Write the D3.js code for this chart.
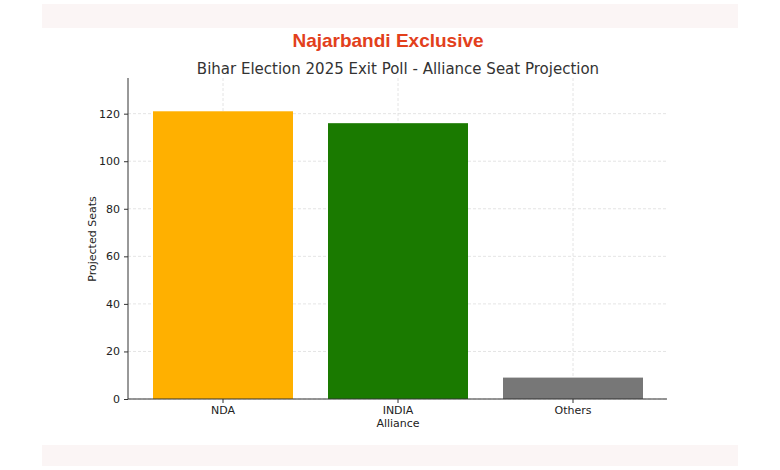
<!DOCTYPE html><html><head><meta charset="utf-8"><script src="https://cdn.jsdelivr.net/npm/d3@7"></script>
<style>body{margin:0;background:#fff}text{font-family:"DejaVu Sans",sans-serif}</style></head><body><svg id="c" width="780" height="470"></svg>
<script>
const categories=["NDA","INDIA","Others"];
const seats=[121,116,9];
const colors=["#FFB000","#1A7A00","#777777"];
const yTicks=[0,20,40,60,80,100,120];
const svg=d3.select("#c");
svg.append("rect").attr("x",42).attr("y",4).attr("width",696).attr("height",24).attr("fill","#fbf5f5");
svg.append("rect").attr("x",42).attr("y",445).attr("width",696).attr("height",21).attr("fill","#fbf5f5");
const x=d3.scaleBand().domain(categories).range([135.5,660.5]).paddingInner(0.2).paddingOuter(0.1);
const y=d3.scaleLinear().domain([0,135]).range([399,78]);
const g=svg.append("g");
g.selectAll(".hg").data(yTicks).join("line").attr("x1",128).attr("x2",667).attr("y1",d=>y(d)).attr("y2",d=>y(d)).attr("stroke","#ddd").attr("stroke-dasharray","3,2").attr("stroke-width",0.8);
g.selectAll(".vg").data(categories).join("line").attr("x1",d=>x(d)+x.bandwidth()/2).attr("x2",d=>x(d)+x.bandwidth()/2).attr("y1",78).attr("y2",399).attr("stroke","#ddd").attr("stroke-dasharray","3,2").attr("stroke-width",0.8);
g.selectAll(".bar").data(categories).join("rect").attr("x",d=>x(d)).attr("width",x.bandwidth()).attr("y",(d,i)=>y(seats[i])).attr("height",(d,i)=>y(0)-y(seats[i])).attr("fill",(d,i)=>colors[i]);
const ya=svg.append("g").attr("transform","translate(128,0)").call(d3.axisLeft(y).tickValues(yTicks).tickSize(4).tickPadding(4));
const xa=svg.append("g").attr("transform","translate(0,399)").call(d3.axisBottom(x).tickSize(4).tickPadding(3));
[ya,xa].forEach(a=>{a.selectAll("text").attr("font-size",11).attr("fill","#222").style("font-family","DejaVu Sans");a.selectAll("line").attr("stroke","#333");a.select(".domain").remove();});
svg.append("line").attr("x1",128).attr("x2",128).attr("y1",78).attr("y2",399).attr("stroke","#333");
svg.append("line").attr("x1",128).attr("x2",667).attr("y1",399).attr("y2",399).attr("stroke","#333");
svg.append("text").attr("x",398).attr("y",427).attr("text-anchor","middle").attr("font-size",11).attr("fill","#222").text("Alliance");
svg.append("text").attr("transform","translate(96,239) rotate(-90)").attr("text-anchor","middle").attr("font-size",11).attr("fill","#222").text("Projected Seats");
svg.append("text").attr("x",398).attr("y",74).attr("text-anchor","middle").attr("font-size",15).attr("fill","#333").text("Bihar Election 2025 Exit Poll - Alliance Seat Projection");
svg.append("text").attr("x",388).attr("y",47).attr("text-anchor","middle").attr("font-size",19).attr("font-weight","bold").style("font-family","Liberation Sans").attr("fill","#E2401C").text("Najarbandi Exclusive");
</script></body></html>
